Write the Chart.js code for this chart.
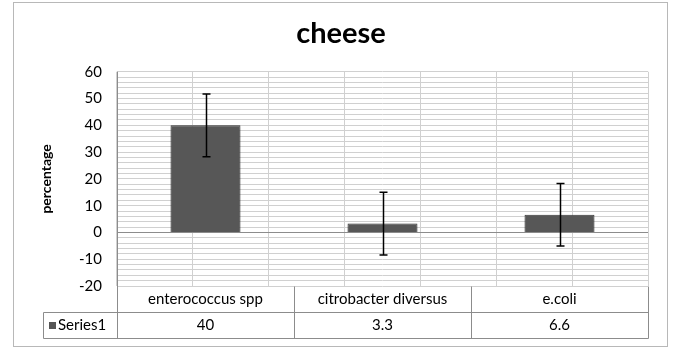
<!DOCTYPE html>
<html>
<head>
<meta charset="utf-8">
<script src="https://cdn.jsdelivr.net/npm/chart.js@4"></script>
<style>
  body { margin: 0; background: #fff; }
  #wrap { width: 682px; height: 361px; }
</style>
</head>
<body>
<div id="wrap"><canvas id="chart"></canvas></div>
<script>
const categories = ['enterococcus spp', 'citrobacter diversus', 'e.coli'];
const seriesName = 'Series1';
const values = [40, 3.3, 6.6];
const errors = [11.7, 11.7, 11.7];
const valueLabels = ['40', '3.3', '6.6'];

const FONT = 'Lato, "Open Sans", sans-serif';

// error bars, frame and the data table under the plot
const extras = {
  id: 'extras',
  beforeDatasetsDraw(chart) {
    chart.ctx.save();
    chart.ctx.shadowColor = 'rgba(0,0,0,0.35)';
    chart.ctx.shadowBlur = 4;
    chart.ctx.shadowOffsetY = 2;
  },
  afterDatasetsDraw(chart) {
    const ctx = chart.ctx;
    ctx.restore();
    const x = chart.scales.x, y = chart.scales.y;
    ctx.save();
    ctx.strokeStyle = '#000';
    ctx.lineWidth = 1.5;
    values.forEach((v, i) => {
      const cx = Math.round(x.getPixelForValue(i)) + 0.5;
      const top = y.getPixelForValue(v + errors[i]);
      const bot = y.getPixelForValue(v - errors[i]);
      ctx.beginPath();
      ctx.moveTo(cx, top); ctx.lineTo(cx, bot);
      ctx.moveTo(cx - 4, top); ctx.lineTo(cx + 4, top);
      ctx.moveTo(cx - 4, bot); ctx.lineTo(cx + 4, bot);
      ctx.stroke();
    });
    ctx.restore();
  },
  afterDraw(chart) {
    const ctx = chart.ctx;
    const area = chart.chartArea;
    const x = chart.scales.x;
    const left = Math.round(area.left) + 0.5, right = Math.round(area.right) + 0.5;
    const row1 = Math.round(area.bottom) + 0.5;
    const row2 = row1 + 26, row3 = row2 + 26;
    const legendLeft = 43.5;
    ctx.save();
    // outer frame
    ctx.strokeStyle = '#b8b8b8';
    ctx.lineWidth = 1;
    ctx.strokeRect(13.5, 2.5, 654, 344);

    ctx.strokeStyle = '#8c8c8c';
    ctx.beginPath();
    ctx.moveTo(left, area.top); ctx.lineTo(left, row3);
    ctx.moveTo(legendLeft, row2); ctx.lineTo(right, row2);
    ctx.moveTo(legendLeft, row3); ctx.lineTo(right, row3);
    ctx.moveTo(legendLeft, row2); ctx.lineTo(legendLeft, row3);
    for (let i = 0; i < categories.length; i++) {
      const bx = Math.round(x.getPixelForValue(i + 0.5)) + 0.5;
      ctx.moveTo(bx, row1); ctx.lineTo(bx, row3);
    }
    ctx.stroke();

    ctx.fillStyle = '#000';
    ctx.font = '15px ' + FONT;
    ctx.textAlign = 'center';
    ctx.textBaseline = 'middle';
    categories.forEach((c, i) => {
      const cx = x.getPixelForValue(i);
      ctx.fillText(c, cx, (row1 + row2) / 2);
      ctx.fillText(valueLabels[i], cx, (row2 + row3) / 2);
    });
    ctx.fillStyle = '#555';
    ctx.fillRect(49, 322, 7, 7);
    ctx.fillStyle = '#000';
    ctx.textAlign = 'left';
    ctx.fillText(seriesName, 58, (row2 + row3) / 2);
    ctx.restore();
  }
};

new Chart(document.getElementById('chart'), {
  type: 'bar',
  data: {
    labels: categories,
    datasets: [{
      label: seriesName,
      data: values,
      backgroundColor: '#575757',
      borderColor: '#3c3c3c',
      borderWidth: 1,
      categoryPercentage: 1,
      barPercentage: 0.395
    }]
  },
  options: {
    responsive: true,
    maintainAspectRatio: false,
    animation: false,
    layout: { padding: { left: 34, right: 34, top: 3, bottom: 75 } },
    plugins: {
      legend: { display: false },
      tooltip: { enabled: false },
      title: {
        display: true,
        text: 'cheese',
        color: '#000',
        font: { family: FONT, size: 29, weight: 'bold' },
        padding: { top: 13, bottom: 21 }
      }
    },
    scales: {
      x: {
        display: false
      },
      x2: {
        type: 'linear',
        position: 'bottom',
        min: -0.5,
        max: 2.5,
        ticks: { display: false, stepSize: 0.5 },
        grid: { color: '#d0d0d0', drawTicks: false },
        border: { display: false },
        afterFit: s => { s.height = 0; }
      },
      y: {
        min: -20,
        max: 60,
        ticks: {
          stepSize: 2,
          autoSkip: false,
          padding: 15,
          color: '#000',
          font: { family: FONT, size: 15 },
          callback: v => (v % 10 === 0 ? v : '')
        },
        grid: {
          drawTicks: false,
          color: ctx => (ctx.tick && ctx.tick.value === 0 ? '#8c8c8c' : '#d0d0d0')
        },
        border: { display: false },
        title: {
          display: true,
          text: 'percentage',
          color: '#000',
          font: { family: FONT, size: 14, weight: 'bold' },
          padding: { top: 4, bottom: 0 }
        },
        afterFit: s => { s.width = 83; }
      }
    }
  },
  plugins: [extras]
});
</script>
</body>
</html>
